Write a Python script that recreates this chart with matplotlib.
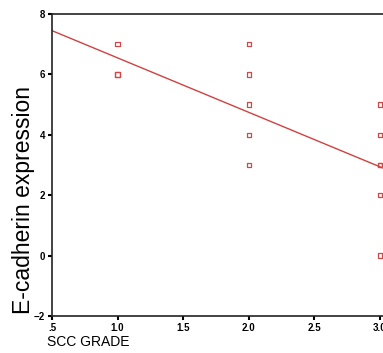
import numpy as np
import matplotlib
matplotlib.use("Agg")
import matplotlib.pyplot as plt

plt.rcParams['font.family'] = ['Liberation Sans', 'DejaVu Sans']

# SCC grade vs E-cadherin expression (some cases overlap at the same point)
grade = [1, 1, 1, 2, 2, 2, 2, 2, 3, 3, 3, 3, 3, 3]
ecad = [7, 6, 6, 7, 6, 5, 4, 3, 5, 4, 3, 3, 2, 0]
xticks = [0.5, 1.0, 1.5, 2.0, 2.5, 3.0]
xticklabels = ['.5', '1.0', '1.5', '2.0', '2.5', '3.0']
yticks = [-2, 0, 2, 4, 6, 8]

fig = plt.figure(figsize=(3.83, 3.53), dpi=100)
ax = fig.add_axes([52/383, 1-316/353, 1-52/383, (316-14)/353])

ax.scatter(grade, ecad, marker='s', s=10, facecolors='none', edgecolors='#d24848', linewidths=0.9, zorder=3)

slope, intercept = np.polyfit(grade, ecad, 1)
xs = np.array([0.5, 3.5])
ax.plot(xs, slope*xs + intercept, color='#d24040', lw=1.0, zorder=2)

ax.set_xlim(0.5, 3.023)
ax.set_ylim(-2, 8)
ax.set_xticks(xticks)
ax.set_xticklabels(xticklabels)
ax.set_yticks(yticks)
ax.tick_params(axis='both', direction='out', length=3, width=1.5, labelsize=7, pad=2)
for lbl in ax.get_xticklabels() + ax.get_yticklabels():
    lbl.set_fontweight('bold')
ax.spines['right'].set_visible(False)
for s in ['left', 'bottom', 'top']:
    ax.spines[s].set_linewidth(1.2)
    ax.spines[s].set_color('#222222')

fig.text(24/383, 1-200/353, 'E-cadherin expression', rotation=90, fontsize=16.5, ha='center', va='center')
fig.text(47/383, 1-342/353, 'SCC GRADE', fontsize=10, ha='left', va='center')

fig.savefig('out.png', dpi=100)
